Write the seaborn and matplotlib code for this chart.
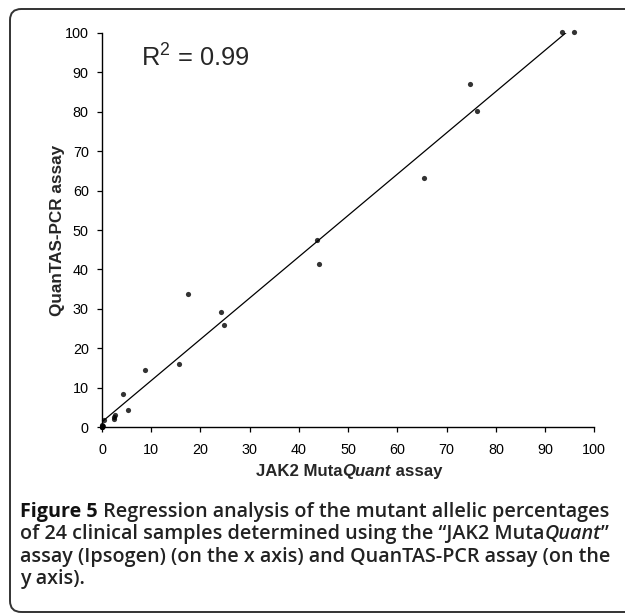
import numpy as np
import pandas as pd
import matplotlib
matplotlib.use('Agg')
import matplotlib.pyplot as plt
import seaborn as sns
from matplotlib.patches import FancyBboxPatch

# JAK2 MutaQuant (x) vs QuanTAS-PCR (y), 24 samples
mutaquant = [0.0, 0.0, 0.1, 0.2, 0.0, 0.1, 0.5, 2.4, 2.5, 2.7, 4.2, 5.2,
             8.7, 15.6, 17.5, 24.2, 24.7, 43.6, 44.1, 65.4, 74.8, 76.2, 93.5, 95.8]
quantas = [0.0, 0.3, 0.1, 0.4, 0.6, 0.2, 1.85, 2.1, 2.7, 3.2, 8.5, 4.4,
           14.5, 16.0, 33.8, 29.2, 25.8, 47.5, 41.4, 63.1, 87.0, 80.2, 100.1, 100.1]
ticks = list(range(0, 101, 10))
r2_text = r'R$^2$ = 0.99'

df = pd.DataFrame({'x': mutaquant, 'y': quantas})

sns.set_style('ticks')
plt.rcParams['font.family'] = ['Liberation Sans', 'DejaVu Sans']
plt.rcParams['mathtext.fontset'] = 'custom'
plt.rcParams['mathtext.rm'] = 'Liberation Sans'
plt.rcParams['mathtext.it'] = 'Liberation Sans:italic'

W, H = 625, 615
fig = plt.figure(figsize=(6.25, 6.15), dpi=100)
ax = fig.add_axes([102 / W, (H - 427.3) / H, (594.3 - 102) / W, (427.3 - 32.7) / H])

sns.regplot(data=df, x='x', y='y', ax=ax, ci=None,
            scatter_kws={'s': 14, 'color': 'black', 'linewidths': 0},
            line_kws={'color': 'black', 'lw': 0.9})

ax.set_xlim(0, 100)
ax.set_ylim(0, 100)
ax.set_xticks(ticks)
ax.set_yticks(ticks)
ax.set_xlabel('')
ax.set_ylabel('')
sns.despine(ax=ax)
for s in ['left', 'bottom']:
    ax.spines[s].set_linewidth(1.0)
    ax.spines[s].set_color('black')
ax.tick_params(axis='both', length=3.6, width=0.9, colors='black', labelsize=10.4)
ax.tick_params(axis='x', pad=7.5)
ax.tick_params(axis='y', pad=6)
for c in ax.collections:
    c.set_clip_on(False)

ax.text(8, 93.5, r2_text, fontsize=18.3, ha='left', va='center')

# y label
fig.text(58 / W, (H - 230) / H, 'QuanTAS-PCR assay', rotation=90,
         ha='center', va='center', fontsize=12.3, fontweight='bold')

renderer = fig.canvas.get_renderer()

def text_run(parts, x_px, base_px, align='left'):
    # place pieces of differently styled text on one baseline
    objs = [fig.text(0, (H - base_px) / H, t, va='baseline', ha='left', **p) for t, p in parts]
    widths = [o.get_window_extent(renderer).width for o in objs]
    x = x_px - (sum(widths) / 2 if align == 'center' else 0)
    for o, w in zip(objs, widths):
        o.set_x(x / W)
        x += w

bold = dict(fontsize=12.1, fontweight='bold', family='Liberation Sans')
bold_it = dict(fontsize=12.1, fontweight='bold', style='italic', family='Liberation Sans')
text_run([('JAK2 Muta', bold), ('Quant', bold_it), (' assay', bold)], 349, 476, align='center')

# caption
cfs = 14.2
cap_b = dict(fontsize=cfs, fontweight='bold', family='Open Sans', color='#111111')
cap_n = dict(fontsize=cfs, fontweight='semibold', family='Open Sans', color='#222222')
cap_i = dict(fontsize=cfs, fontweight='semibold', style='italic', family='Open Sans', color='#222222')
lines = [
    [('Figure 5', cap_b), (' Regression analysis of the mutant allelic percentages', cap_n)],
    [('of 24 clinical samples determined using the \u201cJAK2 Muta', cap_n), ('Quant', cap_i), ('\u201d', cap_n)],
    [('assay (Ipsogen) (on the x axis) and QuanTAS-PCR assay (on the', cap_n)],
    [('y axis).', cap_n)],
]
bases = [517, 539, 562, 584]
for parts, yy in zip(lines, bases):
    text_run(parts, 20, yy)

# rounded frame
frame = FancyBboxPatch((10 / W, 3 / H), 700 / W, (606 - 3) / H,
                       boxstyle='round,pad=0,rounding_size=0.018',
                       transform=fig.transFigure, fill=False,
                       edgecolor='#333333', linewidth=1.4, clip_on=False)
fig.add_artist(frame)

fig.savefig('out.png', dpi=100)
